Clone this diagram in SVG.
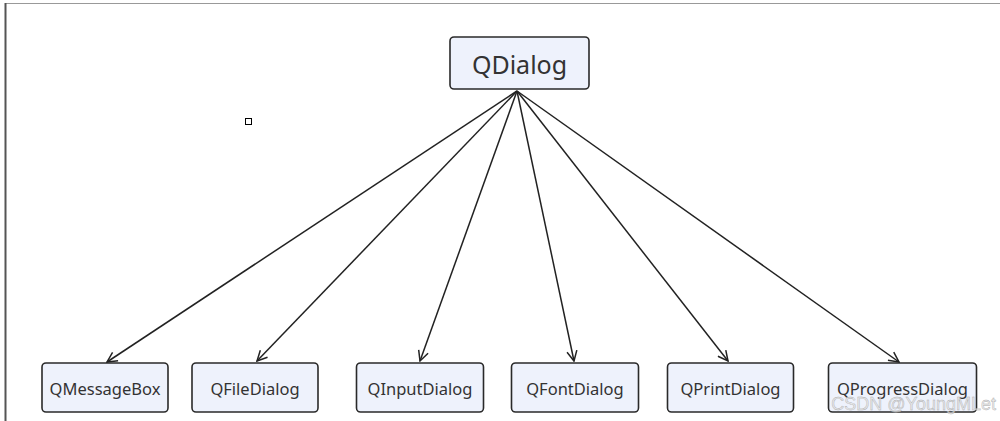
<svg xmlns="http://www.w3.org/2000/svg" width="1000" height="421" viewBox="0 0 1000 421">
<defs>
<style>
.box{fill:#eef2fc;stroke:#2a2a2a;stroke-width:1.6}
.lbl{font-family:"Noto Sans","Liberation Sans",sans-serif;fill:#333;text-anchor:middle}
.edge{stroke:#222;stroke-width:1.5;fill:none;marker-end:url(#arr)}
</style>
<marker id="arr" viewBox="0 0 12 12" refX="11" refY="6" markerWidth="12" markerHeight="12" markerUnits="userSpaceOnUse" orient="auto">
<path d="M1,1 L11,6 L1,11" fill="none" stroke="#222" stroke-width="1.5"/>
</marker>
</defs>
<rect width="1000" height="421" fill="#fff"/>
<line x1="5" y1="3.5" x2="1000" y2="3.5" stroke="#999" stroke-width="1.2"/>
<line x1="5.5" y1="3" x2="5.5" y2="421" stroke="#555" stroke-width="2"/>
<rect x="245.5" y="118.5" width="6" height="6" fill="none" stroke="#000" stroke-width="1"/>
<g id="connectors">
<line class="edge" x1="517" y1="91" x2="107" y2="362"/>
<line class="edge" x1="517" y1="91" x2="257" y2="361"/>
<line class="edge" x1="517" y1="91" x2="420" y2="361"/>
<line class="edge" x1="517" y1="91" x2="574" y2="361"/>
<line class="edge" x1="517" y1="91" x2="728" y2="361"/>
<line class="edge" x1="517" y1="91" x2="899" y2="362"/>
</g>
<g id="qdialog">
<rect class="box" x="450" y="37" width="139" height="52" rx="4"/>
<text class="lbl" x="519.5" y="74" font-size="25">QDialog</text>
</g>
<g id="qmessagebox">
<rect class="box" x="42" y="363" width="126" height="49" rx="4"/>
<text class="lbl" x="105" y="395" font-size="16.5">QMessageBox</text>
</g>
<g id="qfiledialog">
<rect class="box" x="192" y="363" width="126" height="49" rx="4"/>
<text class="lbl" x="255" y="395" font-size="16.5">QFileDialog</text>
</g>
<g id="qinputdialog">
<rect class="box" x="356.5" y="363" width="127" height="49" rx="4"/>
<text class="lbl" x="420" y="395" font-size="16.5">QInputDialog</text>
</g>
<g id="qfontdialog">
<rect class="box" x="511.5" y="363" width="127" height="49" rx="4"/>
<text class="lbl" x="575" y="395" font-size="16.5">QFontDialog</text>
</g>
<g id="qprintdialog">
<rect class="box" x="667.5" y="363" width="126" height="49" rx="4"/>
<text class="lbl" x="730.5" y="395" font-size="16.5">QPrintDialog</text>
</g>
<g id="qprogressdialog">
<rect class="box" x="828.5" y="363" width="148" height="49" rx="4"/>
<text class="lbl" x="902.5" y="395" font-size="16.5">QProgressDialog</text>
</g>
<text x="996" y="410" font-family="Liberation Sans,sans-serif" font-size="18" fill="#e6e6e6" fill-opacity="0.7" stroke="#aaa" stroke-width="0.4" text-anchor="end">CSDN @YoungMLet</text>
</svg>
